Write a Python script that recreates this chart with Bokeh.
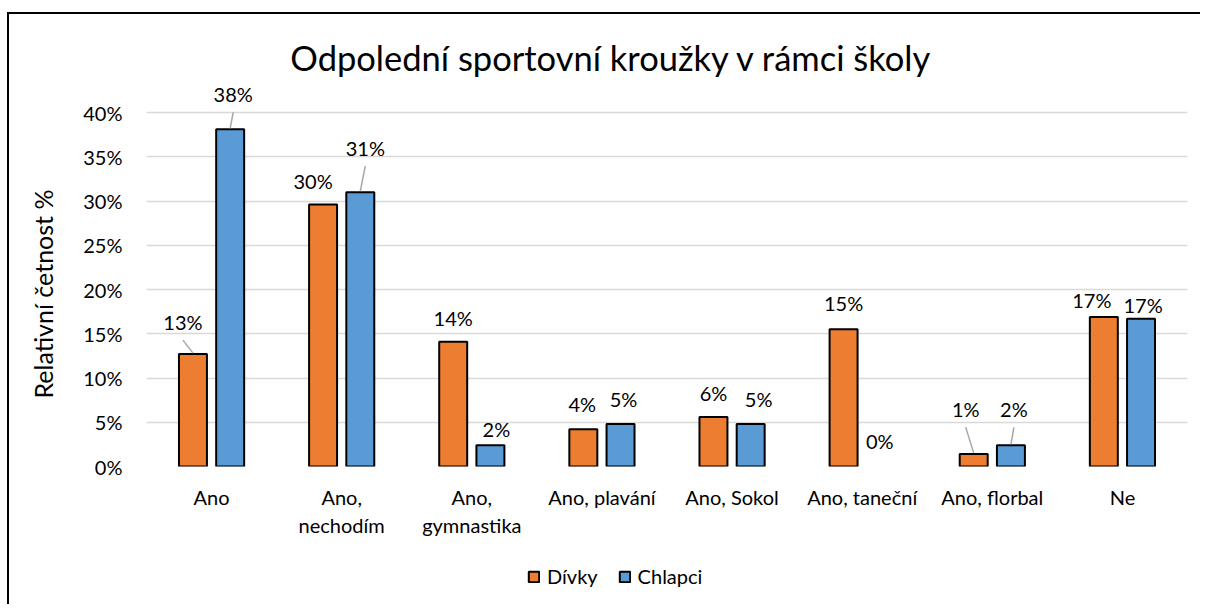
from bokeh.plotting import figure
from bokeh.layouts import column
from bokeh.models import (FactorRange, Range1d, FixedTicker, PrintfTickFormatter,
                          Legend, LegendItem, ColumnDataSource, Title)
from bokeh.transform import dodge
from bokeh.core.properties import value
from bokeh.embed import file_html
from bokeh.resources import INLINE

# ---------------- data ----------------
categories = ["Ano", "Ano,\nnechodím", "Ano,\ngymnastika", "Ano, plavání",
              "Ano, Sokol", "Ano, taneční", "Ano, florbal", "Ne"]
divky = [12.7, 29.6, 14.1, 4.2, 5.6, 15.5, 1.4, 16.9]
chlapci = [38.1, 31.0, 2.4, 4.8, 4.8, 0.0, 2.4, 16.7]
divky_labels = ["13%", "30%", "14%", "4%", "6%", "15%", "1%", "17%"]
chlapci_labels = ["38%", "31%", "2%", "5%", "5%", "0%", "2%", "17%"]
y_ticks = [0, 5, 10, 15, 20, 25, 30, 35, 40]
series_names = ["Dívky", "Chlapci"]
title_text = "Odpolední sportovní kroužky v rámci školy"
y_title = "Relativní četnost %"

# ---------------- style / layout ----------------
FONT = "Lato"
ORANGE = "#ED7D31"
BLUE = "#5B9BD5"
GRID = "#D9D9D9"
LEADER = "#A6A6A6"

W, H = 1200, 548
ML, MR, MT, MB = 146, 13, 0, 82
FW, FH = W - ML - MR, H - MT - MB
PX_40 = 354.0                      # pixels from 0% to 40%
Y_END = 40.0 * FH / PX_40
PX_PCT = PX_40 / 40.0
PX_CAT = FW / len(categories)
OFF = 0.143
BAR_W = 0.215
LEG_H = 56
NAN = float("nan")

# label offsets in pixels relative to bar top centre (dx, dy), and leader flags
d_off = [(-10, -32), (-10, -24), (0, -24), (-1, -25), (0, -24), (0, -26), (-8, -45), (-12, -17)]
c_off = [(3, -35), (5, -44), (6, -16), (3, -25), (8, -25), (-1, -26), (3, -36), (2, -14)]
d_lead = [True, False, False, False, False, False, True, False]
c_lead = [True, True, False, False, False, False, True, False]

p = figure(x_range=FactorRange(factors=categories, range_padding=0),
           y_range=Range1d(0, Y_END),
           width=W, height=H, min_border_left=ML, min_border_right=MR,
           min_border_top=MT, min_border_bottom=MB,
           output_backend="svg", toolbar_location=None)
p.outline_line_color = None
p.background_fill_color = None
p.border_fill_color = None

# outline hidden for zero-height bars (as in the original chart)
src = ColumnDataSource(dict(cat=categories, d=divky, c=chlapci,
                            da=[0.0 if v == 0 else 1.0 for v in divky],
                            ca=[0.0 if v == 0 else 1.0 for v in chlapci]))
r_d = p.vbar(x=dodge("cat", -OFF, range=p.x_range), top="d", width=BAR_W, source=src,
             fill_color=ORANGE, line_color="black", line_width=2, line_alpha="da")
r_c = p.vbar(x=dodge("cat", OFF, range=p.x_range), top="c", width=BAR_W, source=src,
             fill_color=BLUE, line_color="black", line_width=2, line_alpha="ca")

# grid / axes
p.xgrid.grid_line_color = None
p.ygrid.ticker = FixedTicker(ticks=y_ticks)
p.ygrid.grid_line_color = GRID
p.ygrid.grid_line_width = 1.5

p.yaxis.ticker = FixedTicker(ticks=y_ticks)
p.yaxis.formatter = PrintfTickFormatter(format="%d%%")
p.yaxis.axis_line_color = None
p.yaxis.major_tick_line_color = None
p.yaxis.minor_tick_line_color = None
p.yaxis.major_tick_out = 0
p.yaxis.major_label_standoff = 24
p.yaxis.major_label_text_font = FONT
p.yaxis.major_label_text_font_size = "20px"
p.yaxis.major_label_text_color = "black"

ytitle = Title(text=y_title, align="left", offset=68, standoff=46,
               text_font=FONT, text_font_size="25px", text_font_style="normal",
               text_color="black")
p.add_layout(ytitle, "left")

p.xaxis.axis_line_color = None
p.xaxis.major_tick_line_color = None
p.xaxis.major_tick_out = 0
p.xaxis.major_label_standoff = 18
p.xaxis.major_label_text_font = FONT
p.xaxis.major_label_text_font_size = "20px"
p.xaxis.major_label_text_color = "black"
p.xaxis.major_label_text_line_height = 1.2

# data labels and leader lines
lx, ly, lt, lxo, lyo = [], [], [], [], []
sx0, sy0, sx1, sy1 = [], [], [], []
for vals, labs, offs, leads, sgn in ((divky, divky_labels, d_off, d_lead, -1),
                                     (chlapci, chlapci_labels, c_off, c_lead, 1)):
    for i, (v, t, (dx, dy), ld) in enumerate(zip(vals, labs, offs, leads)):
        xb = i + 0.5 + sgn * OFF
        lx.append(xb); ly.append(v); lt.append(t); lxo.append(dx); lyo.append(dy)
        if ld:
            sx0.append(xb + dx / PX_CAT)
            sy0.append(v - (dy + 18) / PX_PCT)
            sx1.append(xb)
            sy1.append(v + 1.0 / PX_PCT)

p.segment(x0=sx0, y0=sy0, x1=sx1, y1=sy1, line_color=LEADER, line_width=1.5)
p.text(x=lx, y=ly, text=lt, x_offset=lxo, y_offset=lyo,
       text_font=value(FONT), text_font_size="20px", text_color="black",
       text_align="center", text_baseline="middle")

# title
p.text(x=[(611 - 146) / PX_CAT], y=[(466 - 57) / PX_PCT], text=[title_text],
       text_font=value(FONT), text_font_size="34.5px", text_color="black",
       text_align="center", text_baseline="middle")

# ---------------- legend strip ----------------
pl = figure(width=W, height=LEG_H, x_range=Range1d(0, 1), y_range=Range1d(0, 1),
            min_border_left=0, min_border_right=0, min_border_top=0, min_border_bottom=0,
            x_axis_type=None, y_axis_type=None,
            output_backend="svg", toolbar_location=None)
pl.outline_line_color = None
pl.background_fill_color = None
pl.border_fill_color = None
pl.grid.visible = False
# legend-only swatch renderers (no drawable point)
l_d = pl.vbar(x=[NAN], bottom=[NAN], top=[NAN], width=0.1, fill_color=ORANGE,
              line_color="black", line_width=2)
l_c = pl.vbar(x=[NAN], bottom=[NAN], top=[NAN], width=0.1, fill_color=BLUE,
              line_color="black", line_width=2)
legend = Legend(items=[LegendItem(label=series_names[0], renderers=[l_d]),
                       LegendItem(label=series_names[1], renderers=[l_c])],
                orientation="horizontal", location=(381, 16),
                glyph_width=13, glyph_height=13, label_standoff=7, spacing=20,
                label_text_font=FONT, label_text_font_size="20px",
                label_text_color="black", label_height=20,
                padding=0, margin=0, border_line_color=None,
                background_fill_alpha=0)
pl.add_layout(legend, "center")

layout = column(p, pl, spacing=0)
layout.styles = {"background": "linear-gradient(#000,#000) 7px 12px / 100% 2px no-repeat, "
                               "linear-gradient(#000,#000) 7px 12px / 2px 100% no-repeat, #ffffff"}

open("out.html", "w").write(file_html(layout, INLINE))
